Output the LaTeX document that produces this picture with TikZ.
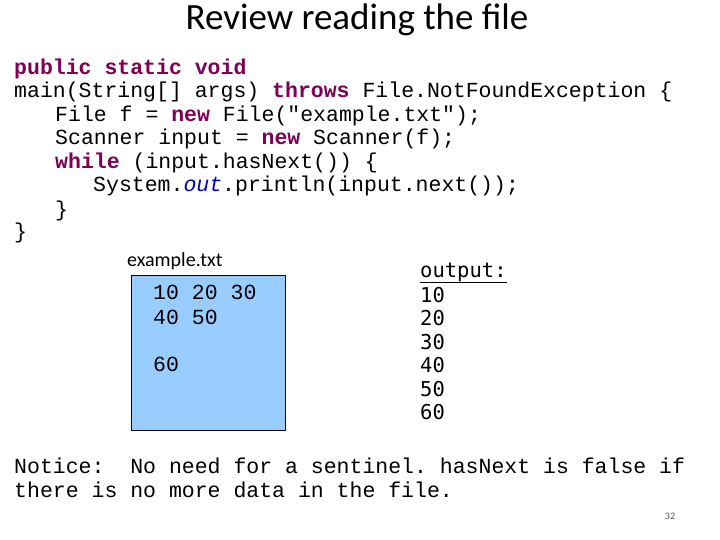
\documentclass[tikz,border=0pt]{standalone}
\usepackage{fontspec}
\setmainfont{Carlito}
\newfontfamily\cmono{Liberation Mono}
\newfontfamily\dmono{DejaVu Sans Mono}
\definecolor{kw}{HTML}{7F0055}
\definecolor{fld}{HTML}{0000C0}
\definecolor{filebg}{HTML}{99CCFF}
\newcommand{\kw}[1]{\textcolor{kw}{\bfseries #1}}
\begin{document}
\begin{tikzpicture}[x=1pt,y=-1pt,
  code/.style={anchor=base west,inner sep=0pt,font=\cmono\fontsize{21.5}{23.5}\selectfont},
  outp/.style={anchor=base west,inner sep=0pt,font=\dmono\fontsize{20.5}{23.4}\selectfont}]
\useasboundingbox (0,0) rectangle (720,540);
\node[font=\fontsize{37}{40}\selectfont] (title) at (357,20) {Review reading the file};
\node[code] (l1) at (14,75) {\kw{public static void}};
\node[code] (l2) at (14,98) {main(String[] args) \kw{throws} File.NotFoundException \{};
\node[code] (l3) at (55,122) {File f = \kw{new} File("example.txt");};
\node[code] (l4) at (55,145) {Scanner input = \kw{new} Scanner(f);};
\node[code] (l5) at (55,169) {\kw{while} (input.hasNext()) \{};
\node[code] (l6) at (93,192) {System.\textcolor{fld}{\itshape out}.println(input.next());};
\node[code] (l7) at (55,216) {\}};
\node[code] (l8) at (14,239) {\}};
\node[anchor=base west,inner sep=0pt,font=\fontsize{20}{24}\selectfont] (fname) at (127,266) {example.txt};
\draw[fill=filebg] (131,275) rectangle (285,430) coordinate (boxc);
\node[code] (f1) at (153,299) {10 20 30};
\node[code] (f2) at (153,324) {40 50};
\node[code] (f3) at (153,371) {60};
\node[outp] (oh) at (420,277) {\underline{output:}};
\node[outp] (o1) at (420,302) {10};
\node[outp] (o2) at (420,325) {20};
\node[outp] (o3) at (420,349) {30};
\node[outp] (o4) at (420,372) {40};
\node[outp] (o5) at (420,396) {50};
\node[outp] (o6) at (420,419) {60};
\node[code] (n1) at (14,473) {Notice:\ \ No need for a sentinel.\ hasNext is false if};
\node[code] (n2) at (14,497) {there is no more data in the file.};
\node[anchor=base,inner sep=0pt,font=\fontsize{10}{12}\selectfont,text=gray!70!black] (pg) at (670,519) {32};
\end{tikzpicture}
\end{document}
